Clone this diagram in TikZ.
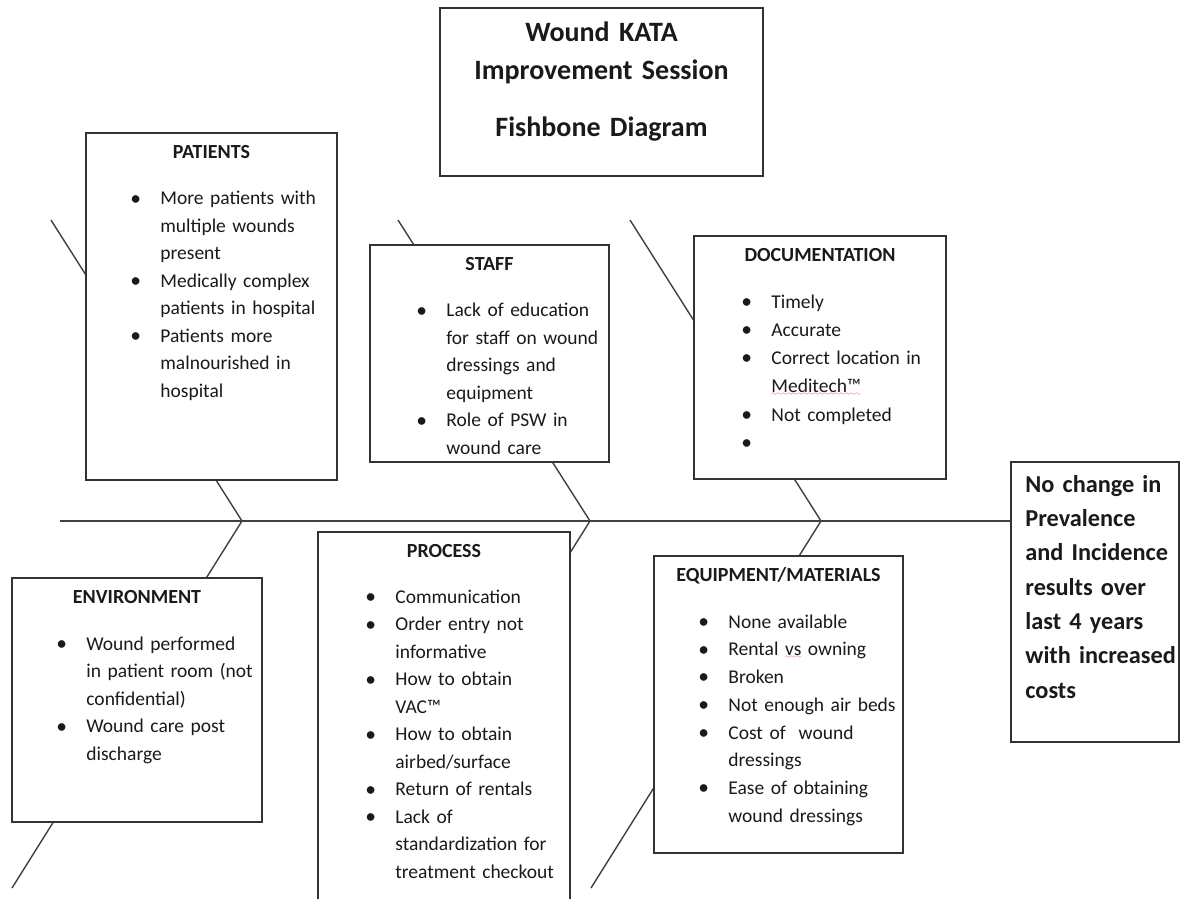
\documentclass[tikz,border=0pt]{standalone}
\usepackage{fontspec}
\setmainfont{Carlito}
\usetikzlibrary{positioning}
\definecolor{ink}{HTML}{1A1A1A}
\definecolor{boxline}{HTML}{333333}
\definecolor{boneline}{HTML}{404040}
\newcommand{\bul}{\makebox[30pt][l]{\raisebox{-0.3pt}{\fontsize{21.5}{22}\selectfont\textbullet}}}
\newcommand{\ind}{\makebox[30pt]{}}
\font\spellfont=lasy6
\newsavebox{\spellbox}
\newcommand{\spellmark}[1]{\sbox{\spellbox}{#1}%
  \rlap{\textcolor{red}{\lower3pt\hbox to\wd\spellbox{\xleaders\hbox{\spellfont\char58}\hfil}}}%
  \usebox{\spellbox}}

\begin{document}
\begin{tikzpicture}[
  x=1pt,y=-1pt,
  bone/.style={draw=boneline,line width=1.4pt},
  cause/.style={draw=boxline,line width=1.6pt,fill=white,inner sep=0pt},
  head/.style={anchor=base,inner sep=0pt,text=ink,
    font=\fontsize{20}{27.5}\selectfont\bfseries},
  items/.style={anchor=base west,inner sep=0pt,text width=260pt,align=left,
    text=ink,font=\fontsize{19.5}{27.5}\selectfont},
  titletext/.style={anchor=base,inner sep=0pt,text width=320pt,align=center,
    text=ink,font=\fontsize{28}{38}\selectfont\bfseries},
  effecttext/.style={anchor=base west,inner sep=0pt,text width=200pt,align=left,
    text=ink,font=\fontsize{24.3}{34.3}\selectfont\bfseries}
]
\clip (0,0) rectangle (1180,898);
\fill[white] (0,0) rectangle (1180,898);

% spine and joints
\coordinate (tail) at (60,521);
\coordinate (j1) at (242,521);
\coordinate (j2) at (590,521);
\coordinate (j3) at (821,521);
% free ends of the bones
\coordinate (t1) at (51,220);
\coordinate (t2) at (398,220);
\coordinate (t3) at (630,220);
\coordinate (b1) at (12,888);
\coordinate (b2) at (360,888);
\coordinate (b3) at (591,888);

\draw[bone] (t1) -- (j1) -- (b1);
\draw[bone] (t2) -- (j2) -- (b2);
\draw[bone] (t3) -- (j3) -- (b3);

% boxes
\node[cause,minimum width=323pt,minimum height=168pt] (title) at (601.5,92) {};
\node[cause,minimum width=251pt,minimum height=347pt] (patients) at (211.5,306.5) {};
\node[cause,minimum width=239pt,minimum height=217pt] (staff) at (489.5,353.5) {};
\node[cause,minimum width=252pt,minimum height=243pt] (docs) at (820,357.5) {};
\node[cause,minimum width=250pt,minimum height=244pt] (environment) at (137,700) {};
\node[cause,minimum width=252pt,minimum height=383pt] (process) at (444,723.5) {};
\node[cause,minimum width=249pt,minimum height=297pt] (equipment) at (778.5,704.5) {};
\node[cause,minimum width=168pt,minimum height=280pt] (effect) at (1095,602) {};

\draw[bone] (tail) -- (tail -| effect.west);

% texts
\node[titletext] at ([shift={(0,34)}]title.north)
  {Wound KATA\\Improvement Session\\[19pt]Fishbone Diagram};

\node[head] at ([shift={(0,26.5)}]patients.north) {PATIENTS};
\node[items] at ([shift={(45,72.5)}]patients.north west)
  {\bul More patients with\\\ind multiple wounds\\\ind present\\
   \bul Medically complex\\\ind patients in hospital\\
   \bul Patients more\\\ind malnourished in\\\ind hospital};

\node[head] at ([shift={(0,26.5)}]staff.north) {STAFF};
\node[items] at ([shift={(47,72.5)}]staff.north west)
  {\bul Lack of education\\\ind for staff on wound\\\ind dressings and\\\ind equipment\\
   \bul Role of PSW in\\\ind wound care};

\node[head] at ([shift={(0,26.5)}]docs.north) {DOCUMENTATION};
\node[items,font=\fontsize{19.5}{28.2}\selectfont] at ([shift={(48,73)}]docs.north west)
  {\bul Timely\\\bul Accurate\\\bul Correct location in\\\ind \spellmark{Meditech™}\\
   \bul Not completed\\\bul};

\node[head] at ([shift={(0,26.5)}]process.north) {PROCESS};
\node[items] at ([shift={(48,72)}]process.north west)
  {\bul Communication\\\bul Order entry not\\\ind informative\\
   \bul How to obtain\\\ind VAC™\\\bul How to obtain\\\ind airbed/surface\\
   \bul Return of rentals\\\bul Lack of\\\ind standardization for\\\ind treatment checkout};

\node[head] at ([shift={(0,26.5)}]environment.north) {ENVIRONMENT};
\node[items] at ([shift={(45,73)}]environment.north west)
  {\bul Wound performed\\\ind in patient room (not\\\ind confidential)\\
   \bul Wound care post\\\ind discharge};

\node[head] at ([shift={(0,26.5)}]equipment.north) {EQUIPMENT/MATERIALS};
\node[items,font=\fontsize{19.5}{27.7}\selectfont] at ([shift={(45,73)}]equipment.north west)
  {\bul None available\\\bul Rental \spellmark{vs} owning\\\bul Broken\\
   \bul Not enough air beds\\\bul Cost of\ \ wound\\\ind dressings\\
   \bul Ease of obtaining\\\ind wound dressings};

\node[effecttext] at ([shift={(15,31)}]effect.north west)
  {No change in\\Prevalence\\and Incidence\\results over\\last 4 years\\with increased\\costs};
\end{tikzpicture}
\end{document}
